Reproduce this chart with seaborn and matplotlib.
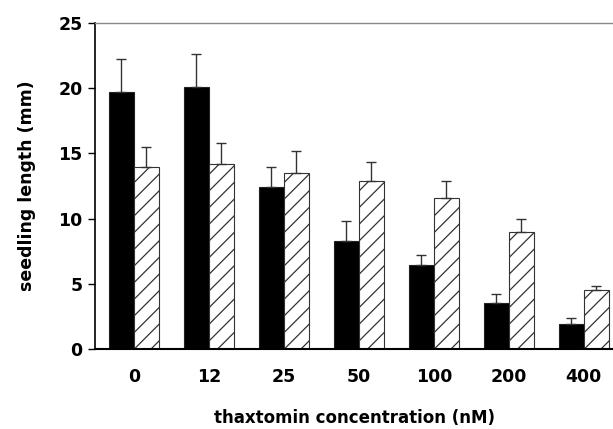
import matplotlib
matplotlib.use("Agg")
import matplotlib.pyplot as plt
import seaborn as sns
import pandas as pd
import numpy as np

categories = ["0", "12", "25", "50", "100", "200", "400"]
series_names = ["solid", "hatched"]
solid_means = [19.75, 20.13, 12.41, 8.28, 6.42, 3.54, 1.91]
solid_err = [2.5, 2.52, 1.59, 1.53, 0.77, 0.69, 0.44]
hatched_means = [13.97, 14.17, 13.52, 12.9, 11.57, 9.0, 4.49]
hatched_err = [1.53, 1.6, 1.64, 1.42, 1.33, 0.99, 0.38]

df = pd.DataFrame({
    "conc": categories * 2,
    "series": [series_names[0]] * len(categories) + [series_names[1]] * len(categories),
    "length": solid_means + hatched_means,
})

sns.set_style("white")
plt.rcParams["font.family"] = ["DejaVu Sans"]
plt.rcParams["hatch.linewidth"] = 0.9
plt.rcParams["hatch.color"] = "#222222"
plt.rcParams["text.color"] = "black"
plt.rcParams["axes.labelcolor"] = "black"
plt.rcParams["xtick.color"] = "black"
plt.rcParams["ytick.color"] = "black"

fig = plt.figure(figsize=(6.13, 4.29), dpi=100)
ax = fig.add_axes([0.155, 0.1865, 0.845, 0.7595])

sns.barplot(data=df, x="conc", y="length", hue="series", order=categories,
            hue_order=series_names, palette=["black", "white"], errorbar=None,
            width=0.667, dodge=True, legend=False, ax=ax, saturation=1)

n = len(categories)
patches = list(ax.patches)[:2 * n]
for i, p in enumerate(patches):
    if i < n:
        p.set_facecolor("black")
        p.set_edgecolor("#222222")
        p.set_linewidth(0.8)
    else:
        p.set_facecolor("white")
        p.set_edgecolor("#333333")
        p.set_hatch("//")
        p.set_linewidth(0.8)

for k, (means, errs) in enumerate([(solid_means, solid_err), (hatched_means, hatched_err)]):
    xs = [patches[k * n + i].get_x() + patches[k * n + i].get_width() / 2 for i in range(n)]
    ax.errorbar(xs, means, yerr=[np.zeros(n), errs], fmt="none", ecolor="#333333",
                elinewidth=1.0, capsize=3.3, capthick=1.0, zorder=1)

ax.set_xlim(-0.52, 6.39)
ax.set_ylim(0, 25)
ax.set_yticks([0, 5, 10, 15, 20, 25])
ax.tick_params(axis="y", which="both", left=True, length=5, width=1, direction="out",
               labelsize=12.5, pad=4, color="black", labelcolor="black")
ax.tick_params(axis="x", bottom=False, labelsize=12.5, pad=10, labelcolor="black")
for lbl in ax.get_xticklabels() + ax.get_yticklabels():
    lbl.set_fontweight("bold")

ax.set_xlabel("thaxtomin concentration (nM)", fontsize=12, fontweight="bold",
              labelpad=17, color="black")
ax.set_ylabel("seedling length (mm)", fontsize=12.5, fontweight="bold", labelpad=16,
              color="black")

ax.spines["left"].set_color("black")
ax.spines["bottom"].set_color("black")
ax.spines["left"].set_linewidth(1.2)
ax.spines["bottom"].set_linewidth(1.5)
ax.spines["top"].set_color("#888888")
ax.spines["top"].set_linewidth(1.0)
ax.spines["right"].set_visible(False)

fig.savefig("out.png", dpi=100)
